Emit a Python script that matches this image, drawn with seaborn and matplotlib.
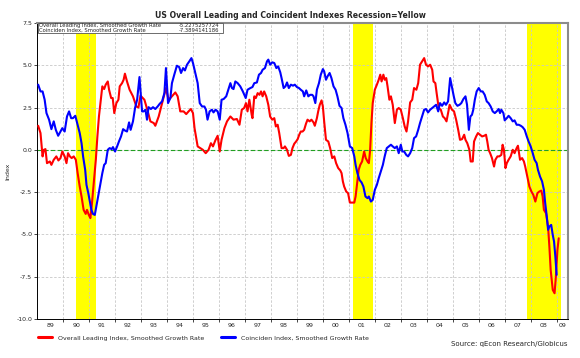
import matplotlib
matplotlib.use("Agg")
from matplotlib import pyplot as plt
from matplotlib.patches import Rectangle
from matplotlib.lines import Line2D
import pandas as pd
import seaborn as sns

# Overall Leading Index, smoothed growth rate (decimal year, value)
lead_years = [
    1989.04, 1989.13, 1989.21, 1989.26, 1989.32, 1989.38, 1989.49, 1989.55, 1989.64, 1989.74,
    1989.82, 1989.90, 1989.97, 1990.06, 1990.13, 1990.19, 1990.26, 1990.33, 1990.41, 1990.49,
    1990.56, 1990.64, 1990.71, 1990.79, 1990.87, 1990.92, 1990.99, 1991.05, 1991.10, 1991.18,
    1991.26, 1991.32, 1991.38, 1991.45, 1991.51, 1991.58, 1991.64, 1991.72, 1991.77, 1991.85,
    1991.91, 1991.97, 1992.05, 1992.13, 1992.18, 1992.27, 1992.33, 1992.38, 1992.46, 1992.56,
    1992.69, 1992.82, 1992.90, 1992.98, 1993.13, 1993.26, 1993.36, 1993.49, 1993.55, 1993.68,
    1993.81, 1993.96, 1994.06, 1994.19, 1994.32, 1994.41, 1994.51, 1994.64, 1994.74, 1994.83,
    1994.92, 1995.00, 1995.06, 1995.18, 1995.28, 1995.38, 1995.49, 1995.60, 1995.69, 1995.77,
    1995.87, 1995.95, 1996.03, 1996.10, 1996.21, 1996.31, 1996.44, 1996.56, 1996.69, 1996.79,
    1996.88, 1996.97, 1997.04, 1997.10, 1997.17, 1997.26, 1997.29, 1997.36, 1997.42, 1997.49,
    1997.56, 1997.62, 1997.68, 1997.74, 1997.82, 1997.90, 1997.97, 1998.05, 1998.13, 1998.19,
    1998.26, 1998.32, 1998.41, 1998.49, 1998.54, 1998.62, 1998.69, 1998.77, 1998.83, 1998.90,
    1998.97, 1999.03, 1999.09, 1999.15, 1999.22, 1999.28, 1999.35, 1999.41, 1999.49, 1999.56,
    1999.64, 1999.69, 1999.77, 1999.82, 1999.88, 1999.95, 2000.00, 2000.05, 2000.12, 2000.21,
    2000.28, 2000.36, 2000.44, 2000.51, 2000.59, 2000.67, 2000.72, 2000.77, 2000.82, 2000.90,
    2000.97, 2001.04, 2001.13, 2001.21, 2001.26, 2001.32, 2001.38, 2001.44, 2001.51, 2001.59,
    2001.65, 2001.72, 2001.77, 2001.82, 2001.87, 2001.92, 2002.00, 2002.08, 2002.15, 2002.21,
    2002.26, 2002.33, 2002.38, 2002.44, 2002.49, 2002.56, 2002.62, 2002.69, 2002.77, 2002.85,
    2002.92, 2003.00, 2003.08, 2003.15, 2003.22, 2003.28, 2003.36, 2003.44, 2003.51, 2003.60,
    2003.67, 2003.74, 2003.82, 2003.90, 2003.97, 2004.05, 2004.13, 2004.21, 2004.26, 2004.33,
    2004.38, 2004.46, 2004.54, 2004.62, 2004.69, 2004.76, 2004.82, 2004.88, 2004.97, 2005.05,
    2005.13, 2005.21, 2005.28, 2005.36, 2005.44, 2005.49, 2005.56, 2005.64, 2005.69, 2005.77,
    2005.82, 2005.90, 2005.97, 2006.05, 2006.13, 2006.21, 2006.28, 2006.33, 2006.38, 2006.44,
    2006.51, 2006.59, 2006.64, 2006.72, 2006.79, 2006.87, 2006.92, 2006.97, 2007.03, 2007.08,
    2007.15, 2007.23, 2007.31, 2007.38, 2007.46, 2007.51, 2007.59, 2007.67, 2007.74, 2007.79,
    2007.87, 2007.95, 2008.03, 2008.10, 2008.18, 2008.26, 2008.33, 2008.41, 2008.46, 2008.51,
    2008.59, 2008.67, 2008.72, 2008.77, 2008.85, 2008.92, 2008.97, 2009.03, 2009.08,
]
lead_vals = [
    1.42, 0.99, -0.39, 0.00, 0.04, -0.79, -0.69, -0.89, -0.59, -0.39,
    -0.63, -0.49, -0.10, -0.39, -0.79, -0.20, -0.39, -0.49, -0.39, -0.59,
    -1.38, -2.17, -2.76, -3.55, -3.79, -3.55, -3.85, -4.04, -3.35, -1.97,
    -0.59, 0.79, 1.97, 2.96, 3.75, 3.59, 3.85, 4.04, 3.55, 3.06,
    3.06, 2.17, 2.76, 2.96, 3.75, 3.94, 4.14, 4.50, 4.04, 3.55,
    3.16, 2.56, 2.50, 3.20, 2.96, 2.27, 1.68, 1.58, 1.42, 1.97,
    2.76, 3.65, 2.96, 3.16, 3.39, 3.16, 2.27, 2.27, 2.11, 2.27,
    2.41, 2.17, 1.28, 0.20, 0.10, 0.00, -0.20, 0.00, 0.39, 0.20,
    0.59, 0.83, -0.10, 0.59, 1.28, 1.68, 1.97, 1.78, 1.82, 1.48,
    2.37, 2.47, 2.76, 2.27, 2.96, 2.07, 1.87, 3.16, 3.06, 3.35,
    3.25, 3.45, 3.16, 3.45, 3.16, 2.66, 1.97, 1.78, 1.87, 1.38,
    1.48, 0.99, 0.10, 0.10, 0.20, 0.00, -0.36, -0.30, 0.10, 0.36,
    0.49, 0.63, 0.89, 1.08, 1.08, 1.18, 1.54, 1.78, 1.68, 1.78,
    1.62, 1.42, 1.87, 2.27, 2.66, 2.92, 2.56, 1.68, 0.59, 0.49,
    0.10, -0.49, -0.39, -0.79, -1.08, -1.22, -1.38, -1.87, -2.17, -2.47,
    -2.56, -3.12, -3.12, -3.12, -2.76, -1.97, -1.18, -0.89, -0.69, -0.10,
    -0.49, -0.69, -0.79, 0.00, 1.58, 2.76, 3.55, 3.85, 4.14, 4.44,
    4.04, 4.44, 4.14, 4.24, 3.75, 2.96, 3.16, 2.66, 1.58, 2.37,
    2.47, 2.37, 1.87, 1.38, 1.08, 1.68, 2.80, 2.96, 3.65, 3.55,
    3.94, 5.03, 5.23, 5.42, 5.03, 4.93, 5.03, 4.73, 4.04, 3.94,
    3.35, 2.47, 2.37, 1.97, 1.87, 1.68, 2.17, 2.66, 2.37, 2.27,
    1.78, 1.18, 0.59, 0.63, 0.89, 0.59, 0.39, 0.00, -0.69, -0.69,
    0.49, 0.79, 0.99, 0.89, 0.79, 0.83, 0.89, 0.49, 0.00, -0.20,
    -0.49, -0.99, -0.59, -0.39, -0.39, -0.30, 0.30, 0.00, -1.08, -0.79,
    -0.59, -0.39, 0.00, -0.20, 0.10, 0.24, -0.59, -0.49, -0.69, -0.99,
    -1.58, -2.17, -2.47, -2.66, -3.06, -2.56, -2.47, -2.41, -2.76, -3.55,
    -3.75, -4.54, -5.72, -7.10, -8.28, -8.48, -7.50, -5.92, -5.23,
]

# Coinciden Index, smoothed growth rate (decimal year, value)
coin_years = [
    1989.04, 1989.13, 1989.21, 1989.29, 1989.36, 1989.46, 1989.55, 1989.64, 1989.72, 1989.81,
    1989.90, 1989.97, 1990.06, 1990.15, 1990.23, 1990.31, 1990.38, 1990.47, 1990.56, 1990.64,
    1990.71, 1990.77, 1990.85, 1990.90, 1990.97, 1991.03, 1991.09, 1991.15, 1991.22, 1991.28,
    1991.36, 1991.44, 1991.51, 1991.58, 1991.64, 1991.72, 1991.79, 1991.87, 1991.92, 1992.00,
    1992.08, 1992.15, 1992.23, 1992.31, 1992.38, 1992.46, 1992.54, 1992.60, 1992.69, 1992.77,
    1992.85, 1992.94, 1993.04, 1993.10, 1993.17, 1993.23, 1993.29, 1993.38, 1993.46, 1993.55,
    1993.64, 1993.72, 1993.81, 1993.90, 1993.96, 1994.04, 1994.13, 1994.19, 1994.28, 1994.38,
    1994.47, 1994.54, 1994.62, 1994.69, 1994.77, 1994.86, 1994.94, 1995.00, 1995.09, 1995.18,
    1995.26, 1995.35, 1995.44, 1995.50, 1995.56, 1995.64, 1995.73, 1995.79, 1995.87, 1995.95,
    1996.03, 1996.10, 1996.18, 1996.28, 1996.37, 1996.44, 1996.50, 1996.56, 1996.63, 1996.72,
    1996.82, 1996.92, 1997.03, 1997.10, 1997.21, 1997.29, 1997.36, 1997.46, 1997.54, 1997.62,
    1997.68, 1997.77, 1997.85, 1997.90, 1997.97, 1998.05, 1998.13, 1998.21, 1998.28, 1998.36,
    1998.41, 1998.49, 1998.56, 1998.62, 1998.69, 1998.77, 1998.85, 1998.92, 1999.00, 1999.08,
    1999.15, 1999.23, 1999.28, 1999.36, 1999.44, 1999.51, 1999.59, 1999.64, 1999.71, 1999.77,
    1999.85, 1999.92, 2000.00, 2000.05, 2000.12, 2000.18, 2000.26, 2000.33, 2000.41, 2000.49,
    2000.56, 2000.64, 2000.72, 2000.79, 2000.87, 2000.95, 2001.04, 2001.13, 2001.21, 2001.26,
    2001.33, 2001.41, 2001.49, 2001.56, 2001.64, 2001.72, 2001.77, 2001.85, 2001.92, 2002.00,
    2002.08, 2002.15, 2002.23, 2002.31, 2002.38, 2002.46, 2002.54, 2002.62, 2002.69, 2002.77,
    2002.85, 2002.92, 2003.00, 2003.06, 2003.13, 2003.21, 2003.28, 2003.36, 2003.44, 2003.51,
    2003.59, 2003.67, 2003.74, 2003.82, 2003.90, 2003.97, 2004.05, 2004.13, 2004.21, 2004.28,
    2004.36, 2004.44, 2004.51, 2004.59, 2004.67, 2004.74, 2004.82, 2004.90, 2005.04, 2005.10,
    2005.18, 2005.26, 2005.33, 2005.41, 2005.49, 2005.55, 2005.62, 2005.68, 2005.74, 2005.79,
    2005.85, 2005.92, 2006.00, 2006.08, 2006.15, 2006.23, 2006.31, 2006.38, 2006.46, 2006.54,
    2006.62, 2006.69, 2006.77, 2006.82, 2006.87, 2006.95, 2007.00, 2007.08, 2007.15, 2007.23,
    2007.31, 2007.38, 2007.46, 2007.54, 2007.62, 2007.69, 2007.77, 2007.85, 2007.92, 2008.00,
    2008.08, 2008.15, 2008.23, 2008.28, 2008.36, 2008.44, 2008.51, 2008.56, 2008.62, 2008.67,
    2008.72, 2008.79, 2008.85, 2008.90, 2008.95, 2009.00,
]
coin_vals = [
    3.85, 3.45, 3.45, 2.96, 2.17, 1.78, 1.22, 1.68, 1.18, 0.83,
    1.08, 1.28, 1.08, 1.97, 2.27, 1.87, 1.87, 2.01, 1.48, 0.99,
    0.39, -0.39, -1.18, -2.07, -2.56, -3.06, -3.55, -3.79, -3.85, -3.35,
    -2.66, -1.97, -1.38, -0.89, -0.79, 0.00, 0.10, 0.04, 0.16, -0.10,
    0.20, 0.49, 0.79, 1.22, 1.14, 1.08, 1.62, 1.18, 1.68, 2.47,
    2.96, 4.30, 2.27, 2.27, 2.37, 1.78, 2.52, 2.41, 2.52, 2.41,
    2.56, 2.72, 2.86, 3.35, 4.83, 2.76, 3.06, 3.94, 4.44, 4.97,
    4.89, 4.54, 4.83, 4.69, 5.03, 5.23, 5.42, 5.13, 4.54, 3.94,
    2.76, 2.56, 2.56, 2.37, 1.78, 2.27, 2.37, 2.21, 2.37, 2.27,
    1.78, 2.96, 3.00, 3.16, 3.59, 3.94, 3.65, 3.59, 4.04, 3.94,
    3.75, 3.45, 3.06, 3.55, 3.65, 3.71, 3.94, 3.98, 4.44, 4.54,
    4.73, 4.83, 5.23, 5.33, 5.03, 5.17, 5.13, 4.83, 4.93, 4.58,
    4.24, 3.65, 3.75, 3.98, 3.65, 3.85, 3.79, 3.85, 3.71, 3.65,
    3.55, 3.45, 3.16, 3.51, 3.16, 3.25, 3.25, 3.16, 2.76, 3.55,
    3.94, 4.44, 4.77, 4.64, 4.14, 4.34, 4.54, 4.24, 3.75, 3.55,
    3.16, 2.60, 2.47, 1.87, 1.48, 0.99, 0.20, 0.10, -0.39, -0.89,
    -1.38, -1.78, -1.93, -2.17, -2.76, -2.86, -2.76, -3.06, -2.96, -2.37,
    -2.07, -1.68, -1.28, -0.89, -0.39, 0.10, 0.20, 0.30, 0.20, 0.10,
    0.20, -0.20, 0.30, -0.10, -0.10, -0.30, -0.39, -0.20, 0.10, 0.69,
    0.79, 1.18, 1.58, 1.97, 2.37, 2.41, 2.21, 2.37, 2.47, 2.56,
    2.66, 2.27, 2.76, 2.60, 2.80, 2.66, 2.86, 4.24, 3.16, 2.76,
    2.60, 2.66, 2.76, 3.00, 3.16, 2.66, 1.18, 1.97, 2.07, 2.37,
    2.96, 3.45, 3.65, 3.45, 3.45, 3.25, 2.86, 2.76, 2.56, 2.27,
    2.17, 2.27, 2.41, 2.17, 2.37, 2.17, 1.74, 1.87, 2.01, 1.87,
    1.68, 1.74, 1.48, 1.48, 1.42, 1.34, 1.18, 0.79, 0.49, 0.20,
    -0.20, -0.59, -0.79, -1.18, -1.58, -1.87, -2.37, -3.16, -3.94, -4.73,
    -4.54, -4.44, -5.03, -5.42, -6.31, -7.39,
]

# latest values as printed in the box
lead_last = "-5.2275257724"
coin_last = "-7.3894141186"

recessions = [(1990.51, 1991.28), (2001.17, 2001.93), (2007.86, 2009.17)]
year_labels = ["89", "90", "91", "92", "93", "94", "95", "96", "97", "98", "99",
               "00", "01", "02", "03", "04", "05", "06", "07", "08", "09"]
y_ticks = [-10.0, -7.5, -5.0, -2.5, 0.0, 2.5, 5.0, 7.5]

lead_name = "Overall Leading Index, Smoothed Growth Rate"
coin_name = "Coinciden Index, Smoothed Growth Rate"

df = pd.concat([
    pd.DataFrame({"year": lead_years, "value": lead_vals, "series": lead_name}),
    pd.DataFrame({"year": coin_years, "value": coin_vals, "series": coin_name}),
])

sns.set_style("white")
plt.rcParams["font.family"] = ["DejaVu Sans"]

x_min, x_max = 1989.0, 2009.43

fig = plt.figure(figsize=(5.8, 3.58), dpi=100)
ax = fig.add_axes([0.064, 0.109, 0.915, 0.827])

for start, end in recessions:
    ax.axvspan(start, end, color="#ffff00", lw=0, zorder=0)

sns.lineplot(data=df, x="year", y="value", hue="series",
             palette={lead_name: "#ff0000", coin_name: "#0000ff"},
             linewidth=1.5, legend=False, ax=ax, zorder=3, estimator=None, sort=False)

ax.axhline(0, color="#22a022", lw=0.8, ls=(0, (4, 2)), zorder=2)

ax.set_xlim(x_min, x_max)
ax.set_ylim(-10, 7.5)
ax.set_yticks(y_ticks)
ax.set_yticklabels([f"{v:.1f}" for v in y_ticks], fontsize=4.5)

# year boundaries as major ticks, labels centred in each year
ax.set_xticks(range(1990, 2010))
ax.set_xticklabels([])
mids = [min(1989 + i + 0.5, (1989 + i + x_max) / 2) for i in range(len(year_labels))]
ax.set_xticks(mids, minor=True)
ax.set_xticklabels(year_labels, minor=True, fontsize=4.5)
ax.tick_params(axis="x", which="minor", length=0, pad=3)
ax.tick_params(axis="x", which="major", length=2.5, width=0.6, direction="out", bottom=True)
ax.tick_params(axis="y", length=2.5, width=0.6, direction="out", left=True, pad=1)

ax.grid(True, axis="x", which="major", color="#c8c8c8", ls=(0, (3, 2)), lw=0.6)
ax.grid(True, axis="y", color="#c8c8c8", ls=(0, (3, 2)), lw=0.6)
ax.set_axisbelow(True)

ax.set_xlabel("")
ax.set_ylabel("Index", fontsize=4.5, labelpad=4)

ax.spines["left"].set_color("black")
ax.spines["left"].set_linewidth(0.7)
ax.spines["bottom"].set_color("black")
ax.spines["bottom"].set_linewidth(0.7)
ax.spines["top"].set_color("#8c8c8c")
ax.spines["top"].set_linewidth(1.5)
ax.spines["right"].set_color("#8c8c8c")
ax.spines["right"].set_linewidth(1.5)

# small box with last values, top left inside the plot
ax.add_patch(Rectangle((0.002, 0.966), 0.348, 0.034, transform=ax.transAxes,
                       facecolor="white", edgecolor="#555555", lw=0.6, zorder=5))
for ypos, name, last in [(0.991, lead_name, lead_last), (0.975, coin_name, coin_last)]:
    ax.text(0.004, ypos, name, transform=ax.transAxes, fontsize=3.8,
            va="center", ha="left", zorder=6)
    ax.text(0.267, ypos, last, transform=ax.transAxes, fontsize=3.8,
            va="center", ha="left", zorder=6)

fig.suptitle("US Overall Leading and Coincident Indexes Recession=Yellow",
             fontsize=5.6, fontweight="bold", x=0.5, y=0.968)

handles = [Line2D([0], [0], color="#ff0000", lw=2.2),
           Line2D([0], [0], color="#0000ff", lw=2.2)]
fig.legend(handles, [lead_name, coin_name], loc="center left",
           bbox_to_anchor=(0.055, 0.056), ncol=2, frameon=False, fontsize=4.5,
           handlelength=2.3, handletextpad=1.0, columnspacing=2.6)

fig.text(0.979, 0.04, "Source: qEcon Research/Globicus", fontsize=5,
         ha="right", va="center")

fig.savefig("out.png", dpi=100)
